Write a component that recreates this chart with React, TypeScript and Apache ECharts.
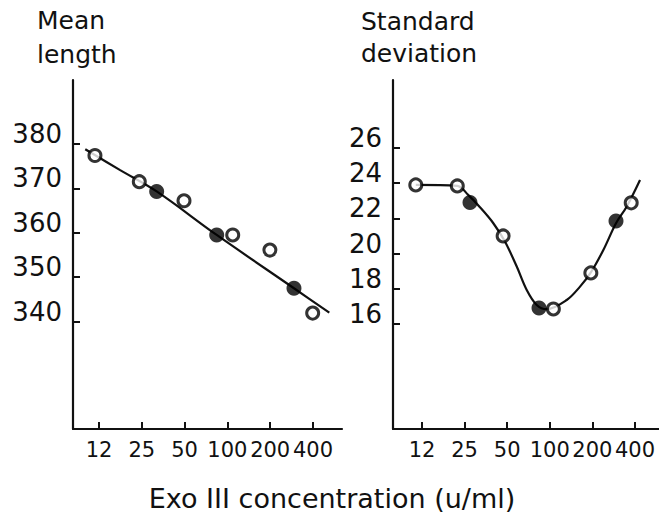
import React, { useEffect, useRef } from "react";
import * as echarts from "echarts";

// Exo III concentration (u/ml) tick values and labels (shared by both panels)
const xTickValues = [12.5, 25, 50, 100, 200, 400];
const xTickLabels = ["12", "25", "50", "100", "200", "400"];

// Left panel: Mean length
const meanTicks = [340, 350, 360, 370, 380];
const meanOpenConc = [11.7, 24, 49.5, 109, 199, 398];
const meanOpenVals = [377.4, 371.5, 367.2, 359.5, 356.1, 341.9];
const meanFilledConc = [31.8, 84.1, 294];
const meanFilledVals = [369.3, 359.5, 347.5];
const meanCurveConc = [10, 17.6, 31.8, 84.1, 294, 521];
const meanCurveVals = [378.8, 374.1, 369.3, 359.5, 347.5, 342.0];

// Right panel: Standard deviation
const sdTicks = [16, 18, 20, 22, 24, 26];
const sdOpenConc = [11.3, 22.2, 46.8, 106, 195, 376];
const sdOpenVals = [23.9, 23.84, 21.0, 16.85, 18.9, 22.88];
const sdFilledConc = [27.3, 83.9, 293.6];
const sdFilledVals = [22.9, 16.9, 21.85];
const sdCurveConc = [11.3, 22.2, 26.5, 32.1, 39.9, 48.2, 58.4, 68.7, 80.8, 95.1, 131.7, 163.5, 194.5, 239, 293.6, 349, 434];
const sdCurveVals = [23.9, 23.84, 23.33, 22.63, 21.72, 20.68, 19.26, 17.93, 17.08, 16.84, 17.36, 18.12, 18.91, 20.2, 21.72, 22.66, 24.18];

const xTitle = "Exo III concentration (u/ml)";

const zip = (a: number[], b: number[]) => a.map((v, i) => [v, b[i]]);

const FONT = "DejaVu Sans, sans-serif";
const INK = "#111";

function xAxisFor(grid: number, min: number, max: number) {
  return {
    type: "log",
    logBase: 2,
    gridIndex: grid,
    min,
    max,
    axisLine: { show: true, lineStyle: { color: INK, width: 2.2 } },
    axisTick: {
      show: true,
      inside: true,
      length: 7,
      customValues: xTickValues,
      lineStyle: { color: INK, width: 2 },
    },
    minorTick: { show: false },
    splitLine: { show: false },
    axisLabel: {
      show: true,
      customValues: xTickValues,
      formatter: (v: number) => {
        const i = xTickValues.findIndex((t) => Math.abs(t - v) < 1e-6);
        return i >= 0 ? xTickLabels[i] : "";
      },
      color: INK,
      fontFamily: FONT,
      fontSize: 21,
      lineHeight: 20,
      margin: 11,
    },
  };
}

function yAxisFor(grid: number, min: number, max: number, ticks: number[]) {
  return {
    type: "value",
    gridIndex: grid,
    min,
    max,
    axisLine: { show: true, lineStyle: { color: INK, width: 2.2 } },
    axisTick: {
      show: true,
      inside: true,
      length: 7,
      customValues: ticks,
      lineStyle: { color: INK, width: 2 },
    },
    splitLine: { show: false },
    axisLabel: {
      show: true,
      customValues: ticks,
      color: INK,
      fontFamily: FONT,
      fontSize: 26,
      lineHeight: 20,
      verticalAlign: "bottom",
      margin: 11,
    },
  };
}

function seriesFor(grid: number, curve: number[][], open: number[][], filled: number[][]) {
  return [
    {
      type: "line",
      xAxisIndex: grid,
      yAxisIndex: grid,
      data: curve,
      smooth: 0.35,
      showSymbol: false,
      symbol: "none",
      lineStyle: { color: INK, width: 2.2 },
      z: 2,
    },
    {
      type: "scatter",
      xAxisIndex: grid,
      yAxisIndex: grid,
      data: open,
      symbol: "circle",
      symbolSize: 12,
      itemStyle: { color: "#fff", borderColor: "#000", borderWidth: 3 },
      z: 3,
    },
    {
      type: "scatter",
      xAxisIndex: grid,
      yAxisIndex: grid,
      data: filled,
      symbol: "circle",
      symbolSize: 15,
      itemStyle: { color: "#000" },
      z: 3,
    },
  ];
}

export default function App() {
  const ref = useRef<HTMLDivElement>(null);
  useEffect(() => {
    if (!ref.current) return;
    const chart = echarts.init(ref.current, undefined, { renderer: "svg" });
    const txt = (text: string, x: number, y: number, size: number, align = "left", lh?: number) => ({
      type: "text",
      x,
      y,
      silent: true,
      style: {
        text,
        fill: INK,
        fontFamily: FONT,
        fontSize: size,
        lineHeight: lh,
        align,
        verticalAlign: "middle",
      },
    });
    chart.setOption({
      animation: false,
      backgroundColor: "#fff",
      grid: [
        { left: 73, top: 80, width: 269, height: 349 },
        { left: 393, top: 80, width: 266, height: 349 },
      ],
      xAxis: [xAxisFor(0, 8.2, 640), xAxisFor(1, 7.8, 591)],
      yAxis: [yAxisFor(0, 315.8, 394.4, meanTicks), yAxisFor(1, 10.03, 29.86, sdTicks)],
      series: [
        ...seriesFor(0, zip(meanCurveConc, meanCurveVals), zip(meanOpenConc, meanOpenVals), zip(meanFilledConc, meanFilledVals)),
        ...seriesFor(1, zip(sdCurveConc, sdCurveVals), zip(sdOpenConc, sdOpenVals), zip(sdFilledConc, sdFilledVals)),
      ],
      graphic: [
        txt("Mean", 37, 20.5, 25),
        txt("length", 37, 54, 25),
        txt("Standard", 361, 21.3, 25),
        txt("deviation", 361, 53.7, 25),
        txt(xTitle, 332, 498, 27, "center", 20),
      ],
    });
    return () => chart.dispose();
  }, []);
  return (
    <div
      ref={ref}
      style={{ position: "fixed", left: 0, top: 0, width: 659, height: 513, background: "#fff" }}
    />
  );
}
